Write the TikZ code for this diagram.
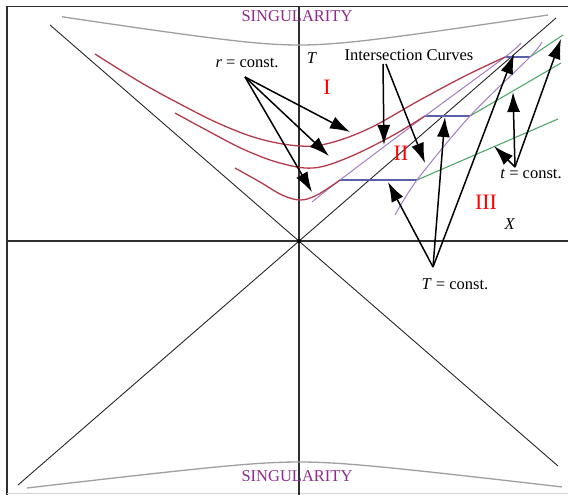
\documentclass[tikz,border=0pt]{standalone}
\usepackage{fontspec}
\setmainfont{Liberation Serif}
\usetikzlibrary{arrows.meta}
\definecolor{singcol}{HTML}{8E2B8E}
\definecolor{curvered}{HTML}{B33A4A}
\definecolor{interpurple}{HTML}{A77CC6}
\definecolor{tblue}{HTML}{5860AA}
\definecolor{tgreen}{HTML}{4FA868}
\definecolor{axisgray}{HTML}{303030}
\begin{document}
\begin{tikzpicture}[x=1pt,y=-1pt,
  lbl/.style={font=\fontsize{16.5}{18}\selectfont, inner sep=0pt},
  region/.style={font=\fontsize{22}{24}\selectfont, text=red, inner sep=0pt},
  sing/.style={font=\fontsize{16.5}{18}\selectfont, text=singcol, inner sep=0pt},
  ptr/.style={-{Latex[length=20pt,width=13pt]}, line width=1.5pt, black},
  rcurve/.style={curvered, line width=1.3pt},
  icurve/.style={interpurple, line width=1pt},
  tline/.style={tblue, line width=1.6pt},
  gline/.style={tgreen, line width=1.1pt},
  singline/.style={gray!75, line width=1.3pt},
  axisline/.style={axisgray, line width=1.3pt},
  diag/.style={black!85, line width=0.9pt}
]
\useasboundingbox (0,0) rectangle (568,495);
% frame
\draw[axisgray, line width=1.3pt] (7,495) -- (7,6.5) -- (568,6.5);
\draw[gray!35, line width=1pt] (7,493) -- (568,493);
% axes
\coordinate (xl) at (7,241);
\coordinate (xr) at (568,241);
\coordinate (tt) at (299,6.5);
\coordinate (tb) at (299,495);
\draw[axisline] (xl) -- (xr);
\draw[axisline] (tt) -- (tb);
% horizons
\coordinate (dTL) at (50,25);
\coordinate (dBR) at (558,466);
\coordinate (dBL) at (18,485);
\coordinate (dTR) at (556,18);
\draw[diag] (dTL) -- (dBR);
\draw[diag] (dBL) -- (dTR);
\coordinate (origin) at (299,241);
\fill[black] (origin) circle (2pt);
% singularities
\draw[singline] plot[domain=62:548, samples=80] (\x, {45 - 15.3*(sqrt(0.36+((\x-299)/100)^2)-0.6)});
\draw[singline] plot[domain=27:562, samples=80] (\x, {462 + 11.9*(sqrt(0.36+((\x-299)/100)^2)-0.6)});
% T = const. segments
\coordinate (b1l) at (340,180);
\coordinate (b1r) at (417,180);
\coordinate (b2l) at (425,116);
\coordinate (b2r) at (470,116);
\coordinate (b3l) at (505,57);
\coordinate (b3r) at (530,57);
\draw[tline] (b1l) -- (b1r);
\draw[tline] (b2l) -- (b2r);
\draw[tline] (b3l) -- (b3r);
% t = const. lines
\coordinate (g1e) at (558,119);
\coordinate (g2e) at (561,63);
\coordinate (g3e) at (563,35);
\draw[gline] (b1r) -- (g1e);
\draw[gline] (b2r) -- (g2e);
\draw[gline] (b3r) -- (g3e);
% intersection curves
\draw[icurve] plot[smooth, tension=0.5] coordinates {(312,202) (340,180) (425,116) (505,57) (521,43)};
\draw[icurve] plot[smooth, tension=0.5] coordinates {(395,215) (417,180) (470,116) (530,57) (542,42)};
% r = const. curves
\draw[rcurve] plot[smooth, tension=0.6] coordinates {(95,54) (140,82) (180,104) (220,124) (260,139) (300,146) (330,143) (370,128) (420,100) (465,76) (505,57)};
\draw[rcurve] plot[smooth, tension=0.6] coordinates {(175,113) (210,132) (245,150) (280,163) (313,168) (347,158) (390,137) (425,116)};
\draw[rcurve] plot[smooth, tension=0.6] coordinates {(235,168) (260,182) (282,195) (300,200) (315,196) (330,187) (340,180)};
% labels
\node[sing] (singtop) at (297,16) {SINGULARITY};
\node[sing] (singbot) at (297,476) {SINGULARITY};
\node[lbl] (Tlab) at (312,58) {\textit{T}};
\node[lbl] (Xlab) at (510,224) {\textit{X}};
\node[lbl] (rlab) at (247,63) {\textit{r} = const.};
\node[lbl] (ilab) at (409,55) {Intersection Curves};
\node[lbl] (tlab) at (531,174) {\textit{t} = const.};
\node[lbl] (Tclab) at (455,284) {\textit{T} = const.};
\node[region] (rI) at (327,87) {I};
\node[region] (rII) at (401,153) {II};
\node[region] (rIII) at (486,202) {III};
% arrows r = const.
\coordinate (ra) at (245,77);
\coordinate (r1) at (350,132);
\coordinate (r2) at (329,156);
\coordinate (r3) at (312,192);
\draw[ptr] (ra) -- (r1);
\draw[ptr] (ra) -- (r2);
\draw[ptr] (ra) -- (r3);
% arrows intersection curves
\coordinate (ia) at (383,64);
\coordinate (ia2) at (386,64);
\coordinate (i1) at (384,145);
\coordinate (i2) at (425,163);
\draw[ptr] (ia) -- (i1);
\draw[ptr] (ia2) -- (i2);
% arrows T = const.
\coordinate (Ta) at (433,267);
\coordinate (T1) at (388,182);
\coordinate (T2) at (445,117);
\coordinate (T3) at (514,54);
\draw[ptr] (Ta) -- (T1);
\draw[ptr] (Ta) -- (T2);
\draw[ptr] (Ta) -- (T3);
% arrows t = const.
\coordinate (ta) at (515,167);
\coordinate (t1) at (494,146);
\coordinate (t2) at (513,92);
\coordinate (t3) at (561,39);
\draw[ptr] (ta) -- (t1);
\draw[ptr] (ta) -- (t2);
\draw[ptr] (ta) -- (t3);
\end{tikzpicture}
\end{document}
